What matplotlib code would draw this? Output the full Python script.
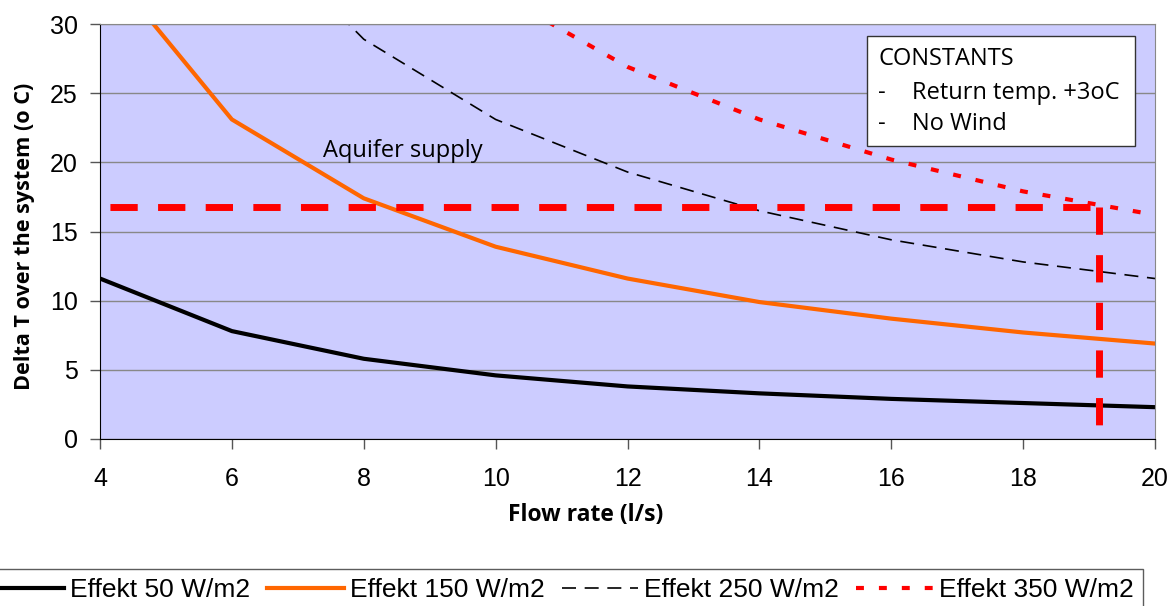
import matplotlib
matplotlib.use("Agg")
import matplotlib.pyplot as plt
from matplotlib.patches import Rectangle

# values (points above 30 are off-scale estimates)
flow = [4, 6, 8, 10, 12, 14, 16, 18, 20]
effekt_50 = [11.6, 7.8, 5.8, 4.6, 3.8, 3.3, 2.9, 2.6, 2.3]
effekt_150 = [34.7, 23.1, 17.4, 13.9, 11.6, 9.9, 8.7, 7.7, 6.9]
effekt_250 = [57.8, 38.5, 28.9, 23.1, 19.3, 16.5, 14.4, 12.8, 11.6]
effekt_350 = [80.8, 53.8, 40.4, 32.3, 26.9, 23.1, 20.2, 17.9, 16.2]
series_labels = ["Effekt 50 W/m2", "Effekt 150 W/m2", "Effekt 250 W/m2", "Effekt 350 W/m2"]

# aquifer supply marker
supply_dt = 16.8
supply_flow = 19.15
supply_bottom = 0.6

plt.rcParams["font.family"] = ["Liberation Sans", "DejaVu Sans"]
CALIBRI = ["Open Sans", "DejaVu Sans"]
W, H = 1168, 606

fig = plt.figure(figsize=(W / 100, H / 100), dpi=100)
ax = fig.add_axes([100 / W, 1 - 439 / H, 1055 / W, 415 / H])
ax.set_facecolor("#CCCCFF")

ax.plot(flow, effekt_50, color="black", lw=3, label=series_labels[0])
ax.plot(flow, effekt_150, color="#FF6600", lw=3, label=series_labels[1])
ax.plot(flow, effekt_250, color="black", lw=1.2, dashes=(8.4, 5.2), label=series_labels[2])
ax.plot(flow, effekt_350, color="#FF0000", lw=3, dashes=(1.9, 3.6), label=series_labels[3])

ax.plot([4, supply_flow], [supply_dt, supply_dt], color="#FF0000", lw=5,
        linestyle=(5.43, (3.93, 2.93)))
ax.plot([supply_flow, supply_flow], [supply_dt, supply_bottom], color="#FF0000", lw=5,
        linestyle=(0, (3.93, 2.93)))

ax.set_xlim(4, 20)
ax.set_ylim(0, 30)
ax.set_xticks(range(4, 21, 2))
ax.set_yticks(range(0, 31, 5))
ax.grid(axis="y", color="#888888", lw=1)
ax.set_axisbelow(True)
for s in ["top", "right"]:
    ax.spines[s].set_color("#888888")
for s in ["left", "bottom"]:
    ax.spines[s].set_color("black")
ax.tick_params(direction="out", length=7, width=1, color="#555555", labelsize=18)
ax.tick_params(axis="x", pad=13)
ax.tick_params(axis="y", pad=9)

fig.text(586 / W, 1 - 515 / H, "Flow rate (l/s)", family=CALIBRI, fontweight="bold",
         fontsize=16.5, ha="center", va="center")
fig.text(25 / W, 1 - 236 / H, "Delta T over the system (o C)", family=CALIBRI,
         fontweight="bold", fontsize=15.6, ha="center", va="center", rotation=90)

ax.text(7.38, 20.4, "Aquifer supply", family=CALIBRI, fontsize=17, va="baseline")

# constants box
fig.patches.append(Rectangle((867 / W, 1 - 146 / H), 268 / W, 110 / H,
                             transform=fig.transFigure, facecolor="white",
                             edgecolor="#333333", lw=1))
fig.text(878 / W, 1 - 65 / H, "CONSTANTS", family=CALIBRI, fontsize=17, va="baseline")
fig.text(878 / W, 1 - 99 / H, "-", family=CALIBRI, fontsize=17, va="baseline")
fig.text(912 / W, 1 - 99 / H, "Return temp. +3oC", family=CALIBRI, fontsize=17, va="baseline")
fig.text(878 / W, 1 - 130 / H, "-", family=CALIBRI, fontsize=17, va="baseline")
fig.text(912 / W, 1 - 130 / H, "No Wind", family=CALIBRI, fontsize=17, va="baseline")

handles, labels = ax.get_legend_handles_labels()
leg = fig.legend(handles, labels, loc="upper left", bbox_to_anchor=(-22 / W, 1 - 569 / H),
                 borderaxespad=0, ncol=4, fancybox=False, frameon=True, edgecolor="#333333",
                 fontsize=19, handlelength=2.9, handletextpad=0.23,
                 columnspacing=0.65, borderpad=0.35)
leg.get_frame().set_linewidth(1)

fig.savefig("out.png", dpi=100)
